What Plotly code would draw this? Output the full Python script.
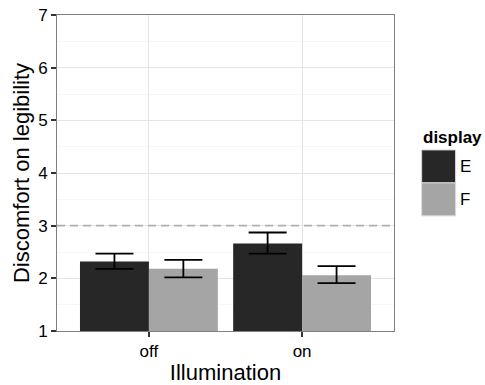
import plotly.graph_objects as go

illumination = ["off", "on"]
displays = ["E", "F"]
means = {"E": [2.32, 2.66], "F": [2.18, 2.06]}
err_hi = {"E": [2.47, 2.87], "F": [2.35, 2.23]}
err_lo = {"E": [2.18, 2.47], "F": [2.02, 1.91]}
colors = {"E": "#272727", "F": "#a5a5a5"}
y_ticks = [1, 2, 3, 4, 5, 6, 7]
ref_line = 3

fig = go.Figure()
for d in displays:
    fig.add_trace(go.Bar(
        x=illumination, y=means[d], name=d, marker_color=colors[d],
        marker_line_width=0, base=0,
        error_y=dict(type="data", symmetric=False,
                     array=[h - m for h, m in zip(err_hi[d], means[d])],
                     arrayminus=[m - l for m, l in zip(means[d], err_lo[d])],
                     color="black", thickness=1.8, width=19),
        showlegend=False,
    ))

fig.add_shape(type="line", xref="paper", x0=0, x1=1, yref="y", y0=ref_line, y1=ref_line,
              line=dict(color="#b0b0b0", width=1.6, dash="8px,5px"), layer="above")

# legend drawn manually
PL, PW, PB, PH = 56.7, 337.6, 330.7, 316.2
fig.add_annotation(xref="paper", yref="paper", x=(421 - PL) / PW, y=(PB - 137.5) / PH,
                   xanchor="left", yanchor="middle",
                   text="<b>display</b>", showarrow=False, font=dict(size=17, color="black"))
key_top = [149.5, 182.5]
for i, d in enumerate(displays):
    y0 = key_top[i]
    fig.add_shape(type="rect", xref="paper", yref="paper",
                  x0=(422 - PL) / PW, x1=(456 - PL) / PW,
                  y0=(PB - y0) / PH, y1=(PB - (y0 + 33)) / PH,
                  fillcolor=colors[d], line=dict(color="#d9d9d9", width=1))
    fig.add_annotation(xref="paper", yref="paper", x=(458 - PL) / PW,
                       y=(PB - (y0 + 16.5)) / PH, xanchor="left", yanchor="middle",
                       text=d, showarrow=False, font=dict(size=17, color="black"))

fig.update_layout(
    width=485, height=385,
    margin=dict(l=56.7, r=90.7, t=14.5, b=54.3, autoexpand=False),
    paper_bgcolor="white", plot_bgcolor="white",
    font=dict(family="Liberation Sans, Arial, sans-serif", color="black"),
    barmode="group", bargap=0.1, bargroupgap=0,
    xaxis=dict(range=[-0.6, 1.6], showgrid=True, gridcolor="#e5e5e5", gridwidth=1,
               automargin=False,
               ticks="outside", ticklen=5, tickcolor="#333333", tickwidth=1.5,
               tickfont=dict(size=17), title=dict(text="Illumination", font=dict(size=22), standoff=6),
               showline=True, linecolor="#7f7f7f", linewidth=1, mirror=True, zeroline=False),
    yaxis=dict(range=[1, 7], tickvals=y_ticks, showgrid=True, gridcolor="#e5e5e5", gridwidth=1,
               automargin=False,
               minor=dict(dtick=0.5, showgrid=True, gridcolor="#f7f7f7", gridwidth=1),
               ticks="outside", ticklen=5, tickcolor="#333333", tickwidth=1.5,
               tickfont=dict(size=17), title=dict(text="Discomfort on legibility", font=dict(size=22), standoff=2),
               showline=True, linecolor="#7f7f7f", linewidth=1, mirror=True, zeroline=False),
)

fig.write_html("out.html")
